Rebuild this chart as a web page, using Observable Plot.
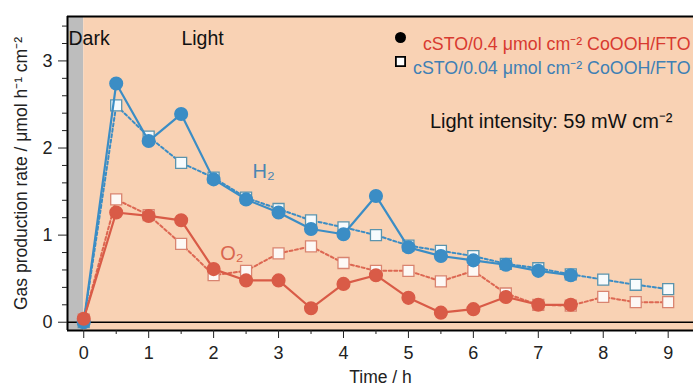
<!DOCTYPE html>
<html><head><meta charset="utf-8">
<script src="https://cdn.jsdelivr.net/npm/d3@7"></script>
<script src="https://cdn.jsdelivr.net/npm/@observablehq/plot@0.6"></script>
<style>
body{margin:0;background:#fff;font-family:"Liberation Sans",Arial,sans-serif;}
</style></head>
<body><div id="chart"></div>
<script>
const timesFull = [0,0.5,1,1.5,2,2.5,3,3.5,4,4.5,5,5.5,6,6.5,7,7.5,8,8.5,9];
const timesHigh = [0,0.5,1,1.5,2,2.5,3,3.5,4,4.5,5,5.5,6,6.5,7,7.5];
// cSTO/0.4 µmol cm-2 CoOOH/FTO (filled circles, solid)
const h2High = [0.00,2.74,2.08,2.39,1.64,1.41,1.26,1.07,1.01,1.45,0.86,0.76,0.71,0.66,0.59,0.54];
const o2High = [0.04,1.26,1.22,1.17,0.61,0.48,0.48,0.16,0.44,0.54,0.28,0.11,0.15,0.29,0.20,0.20];
// cSTO/0.04 µmol cm-2 CoOOH/FTO (open squares, dotted)
const h2Low = [0.00,2.49,2.13,1.83,1.66,1.43,1.30,1.17,1.09,1.00,0.88,0.82,0.76,0.67,0.62,0.55,0.49,0.43,0.38];
const o2Low = [0.03,1.41,1.23,0.90,0.54,0.59,0.79,0.87,0.68,0.59,0.59,0.47,0.59,0.33,0.20,0.19,0.29,0.23,0.23];
const xTicks = [0,1,2,3,4,5,6,7,8,9];
const xMinor = [0.5,1.5,2.5,3.5,4.5,5.5,6.5,7.5,8.5];
const yTicks = [0,1,2,3];
const yMinor = [0.2,0.4,0.6,0.8,1.2,1.4,1.6,1.8,2.2,2.4,2.6,2.8,3.2,3.4];
const regions = [{x1:-0.25,x2:0,fill:"#bdbdbd"},{x1:0,x2:9.39,fill:"#f9d2b4"}];
const legendLabels = ["cSTO/0.4 \u03bcmol cm\u207b\u00b2 CoOOH/FTO","cSTO/0.04 \u03bcmol cm\u207b\u00b2 CoOOH/FTO"];

const BLUE = "#3b8dc5", RED = "#d95b47";
const zip = (xs, ys) => ys.map((y,i)=>({t:xs[i], v:y}));
const H2H = zip(timesHigh,h2High), O2H = zip(timesHigh,o2High);
const H2L = zip(timesFull,h2Low), O2L = zip(timesFull,o2Low);
const xD = [-0.25, 9.39], yD = [-0.095, 3.51];
const font = "Liberation Sans, Arial, sans-serif";

const chart = Plot.plot({
  width: 693, height: 385,
  marginLeft: 67, marginRight: 0, marginTop: 16, marginBottom: 55,
  style: {fontFamily: font, fontSize: "18px", background: "white", color: "#222"},
  x: {domain: xD},
  y: {domain: yD},
  marks: [
    Plot.rect(regions, {x1:"x1", x2:"x2", fill:"fill"}),
    Plot.ruleY([0], {stroke:"black", strokeWidth:1.6}),
    Plot.ruleX([xD[0]], {stroke:"black", strokeWidth:2}),
    Plot.ruleY([yD[0]], {stroke:"black", strokeWidth:2}),
    Plot.ruleY([yD[1]], {stroke:"black", strokeWidth:2}),
    Plot.axisX({ticks: xTicks, tickFormat: "d", tickSize: 8, tickPadding: 8, tickWidth: 1.5, fontSize: 18, label: null}),
    Plot.axisX({ticks: [], label: "Time / h", labelAnchor: "center", labelArrow: "none", labelOffset: 52, fontSize: 17.5}),
    Plot.axisX({ticks: xMinor, tickSize: 4, tickWidth: 1.5, text: null, label: null}),
    Plot.axisY({ticks: yTicks, tickFormat: "d", tickSize: 9, tickPadding: 6, tickWidth: 1.5, fontSize: 18, label: null}),
    Plot.axisY({ticks: [], label: "Gas production rate / \u03bcmol h\u207b\u00b9 cm\u207b\u00b2", labelAnchor: "center", labelArrow: "none", labelOffset: 53, fontSize: 17.5}),
    Plot.axisY({ticks: yMinor, tickSize: 5, tickWidth: 1.5, text: null, label: null}),
    // dotted series with squares
    Plot.line(H2L, {x:"t", y:"v", stroke:BLUE, strokeWidth:2, strokeDasharray:"3,2.5"}),
    Plot.line(O2L, {x:"t", y:"v", stroke:RED, strokeWidth:2, strokeDasharray:"3,2.5", strokeOpacity:0.9}),
    Plot.dot(H2L, {x:"t", y:"v", symbol:"square", r:6.2, fill:"#f7fbfd", stroke:"#5b94ad", strokeWidth:1.3}),
    Plot.dot(O2L, {x:"t", y:"v", symbol:"square", r:6.2, fill:"#fdf8f5", stroke:"#d98470", strokeWidth:1.3}),
    // solid series with circles
    Plot.line(H2H, {x:"t", y:"v", stroke:BLUE, strokeWidth:2.2}),
    Plot.line(O2H, {x:"t", y:"v", stroke:RED, strokeWidth:2.2}),
    Plot.dot(H2H, {x:"t", y:"v", r:6.3, fill:BLUE, stroke:BLUE}),
    Plot.dot(O2H, {x:"t", y:"v", r:6.3, fill:RED, stroke:RED}),
    // annotations
    Plot.text(["Dark"], {x:xD[0], y:3.25, textAnchor:"start", dx:1, fontSize:19.5, fill:"#111"}),
    Plot.text(["Light"], {x:1.83, y:3.25, fontSize:19.5, fill:"#111"}),
    Plot.text(["H\u2082"], {x:2.77, y:1.73, fontSize:20, fill:"#4a86b3"}),
    Plot.text(["O\u2082"], {x:2.28, y:0.79, fontSize:20, fill:"#d9664f"}),
    Plot.text([legendLabels[0]], {frameAnchor:"top-right", textAnchor:"end", dx:-3, dy:21, fontSize:17.8, fill:"#d83a30"}),
    Plot.text([legendLabels[1]], {frameAnchor:"top-right", textAnchor:"end", dx:-3, dy:45, fontSize:17.8, fill:"#3f80b4"}),
    Plot.dot([0], {frameAnchor:"top-right", dx:-293, dy:21, r:5.5, fill:"black"}),
    Plot.dot([0], {frameAnchor:"top-right", dx:-293, dy:45, symbol:"square", r:5.2, fill:"white", stroke:"black", strokeWidth:1.8}),
    Plot.text(["Light intensity: 59 mW cm\u207b\u00b2"], {frameAnchor:"top-right", textAnchor:"end", dx:-21, dy:97, fontSize:20, fill:"#111"})
  ]
});
document.getElementById("chart").appendChild(chart);
</script></body></html>
